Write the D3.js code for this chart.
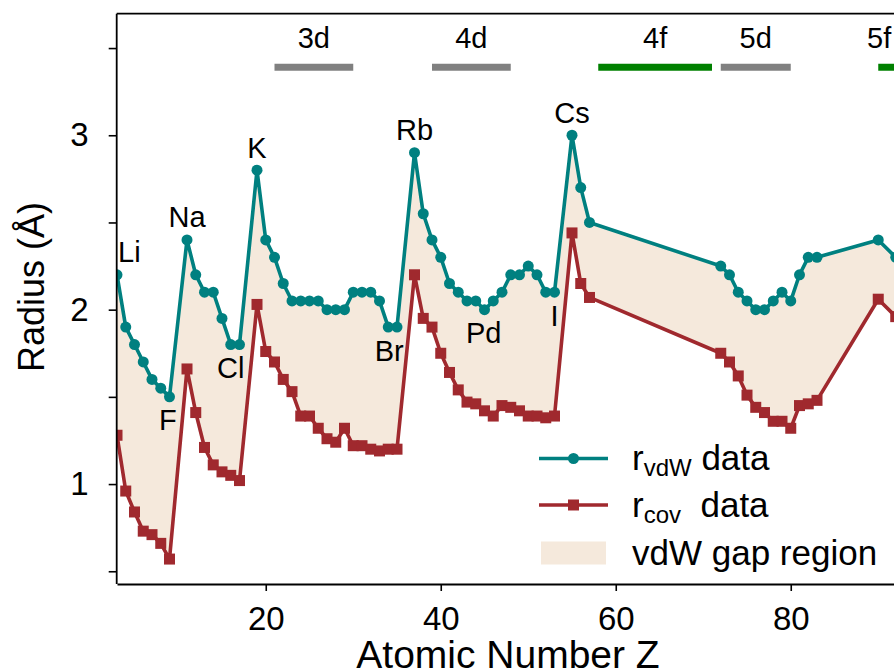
<!DOCTYPE html>
<html>
<head>
<meta charset="utf-8">
<script src="https://cdn.jsdelivr.net/npm/d3@7"></script>
<style>
  html, body { margin: 0; padding: 0; background: #fff; }
  svg { display: block; font-family: "Liberation Sans", Arial, Helvetica, sans-serif; }
</style>
</head>
<body>
<script>
// ---------------- DATA ----------------
const atomicNumbers = [3,4,5,6,7,8,9, 11,12,13,14,15,16,17,
  19,20,21,22,23,24,25,26,27,28,29,30,31,32,33,34,35,
  37,38,39,40,41,42,43,44,45,46,47,48,49,50,51,52,53,
  55,56,57, 72,73,74,75,76,77,78,79,80,81,82,83, 90,92];
const rVdw = [2.2,1.9,1.8,1.7,1.6,1.55,1.5, 2.4,2.2,2.1,2.1,1.95,1.8,1.8,
  2.8,2.4,2.3,2.15,2.05,2.05,2.05,2.05,2.0,2.0,2.0,2.1,2.1,2.1,2.05,1.9,1.9,
  2.9,2.55,2.4,2.3,2.15,2.1,2.05,2.05,2.0,2.05,2.1,2.2,2.2,2.25,2.2,2.1,2.1,
  3.0,2.7,2.5, 2.25,2.2,2.1,2.05,2.0,2.0,2.05,2.1,2.05,2.2,2.3,2.3, 2.4,2.3];
const rCov = [1.28,0.96,0.84,0.73,0.71,0.66,0.57, 1.66,1.41,1.21,1.11,1.07,1.05,1.02,
  2.03,1.76,1.70,1.60,1.53,1.39,1.39,1.32,1.26,1.24,1.32,1.22,1.22,1.20,1.19,1.20,1.20,
  2.20,1.95,1.90,1.75,1.64,1.54,1.47,1.46,1.42,1.39,1.45,1.44,1.42,1.39,1.39,1.38,1.39,
  2.44,2.15,2.07, 1.75,1.70,1.62,1.51,1.44,1.41,1.36,1.36,1.32,1.45,1.46,1.48, 2.06,1.96];

// element annotations
const labelNames = ["Li","Na","K","Rb","Cs","F","Cl","Br","Pd","I"];
const labelZ     = [3, 11, 19, 37, 55, 8.8, 16, 34.1, 44.9, 53];
const labelSide  = ["above","above","above","above","above","below","below","below","below","below"];

// shell blocks
const shellNames = ["3d","4d","4f","5d","5f"];
const shellStart = [21, 39, 58, 72, 90];
const shellEnd   = [30, 48, 71, 80, 103];
const shellLabelZ = [25.5, 43.5, 64.5, 76, 90.1];
const shellType  = ["d","d","f","d","f"];

// axis ticks
const xTicks = [20, 40, 60, 80];
const yTicks = [0.5, 1, 1.5, 2, 2.5, 3, 3.5];

// ---------------- STYLE ----------------
const W = 894, H = 671;
const teal = "#008080", brown = "#a0292e", gapFill = "#f5e9dc";
const shellColor = {d: "#808080", f: "#008000"};
const shellLevel = 3.39, shellLabelLevel = 3.5;
const lw = 3.6, rad = 5.5, sq = 11;

const svg = d3.select("body").append("svg").attr("width", W).attr("height", H);

const mLeft = 116.7, mTop = 13.7, mBottom = 584;
const x = d3.scaleLinear().domain([3, 96]).range([117, 117 + 93 * 8.75]);
const y = d3.scaleLinear().domain([0.427, 3.697]).range([mBottom, mTop]);

const data = atomicNumbers.map((z, i) => ({z, v: rVdw[i], c: rCov[i]}));

svg.append("clipPath").attr("id", "clip")
  .append("rect").attr("x", mLeft).attr("y", mTop)
  .attr("width", x.range()[1] - mLeft).attr("height", mBottom - mTop);

const plot = svg.append("g").attr("clip-path", "url(#clip)");

// gap region
plot.append("path").datum(data)
  .attr("d", d3.area().x(d => x(d.z)).y0(d => y(d.c)).y1(d => y(d.v)))
  .attr("fill", gapFill).attr("stroke", "none");

// shell bars
shellNames.forEach((n, i) => {
  plot.append("line")
    .attr("x1", x(shellStart[i])).attr("x2", x(shellEnd[i]))
    .attr("y1", y(shellLevel)).attr("y2", y(shellLevel))
    .attr("stroke", shellColor[shellType[i]]).attr("stroke-width", 7);
});

// lines
plot.append("path").datum(data)
  .attr("d", d3.line().x(d => x(d.z)).y(d => y(d.c)))
  .attr("fill", "none").attr("stroke", brown).attr("stroke-width", lw).attr("stroke-linejoin", "round");
plot.append("path").datum(data)
  .attr("d", d3.line().x(d => x(d.z)).y(d => y(d.v)))
  .attr("fill", "none").attr("stroke", teal).attr("stroke-width", lw).attr("stroke-linejoin", "round");

// markers
plot.selectAll("rect.cov").data(data).enter().append("rect")
  .attr("x", d => x(d.z) - sq / 2).attr("y", d => y(d.c) - sq / 2)
  .attr("width", sq).attr("height", sq).attr("fill", brown);
plot.selectAll("circle.vdw").data(data).enter().append("circle")
  .attr("cx", d => x(d.z)).attr("cy", d => y(d.v)).attr("r", rad).attr("fill", teal);

// shell labels
shellNames.forEach((n, i) => {
  svg.append("text").attr("x", x(shellLabelZ[i])).attr("y", y(shellLabelLevel))
    .attr("text-anchor", "middle").attr("font-size", 29).attr("fill", "#000").text(n);
});

// element labels
function nearest(z) {
  let best = data[0];
  data.forEach(d => { if (Math.abs(d.z - z) < Math.abs(best.z - z)) best = d; });
  return best;
}
labelNames.forEach((n, i) => {
  const p = nearest(labelZ[i]);
  const atEdge = labelZ[i] === x.domain()[0];
  svg.append("text")
    .attr("x", atEdge ? x(labelZ[i]) + 1 : x(labelZ[i]))
    .attr("y", labelSide[i] === "above" ? y(p.v) - 12.5 : y(p.v) + 33.5)
    .attr("text-anchor", atEdge ? "start" : "middle")
    .attr("font-size", 29).attr("fill", "#000").text(n);
});

// axes
const gx = svg.append("g").attr("transform", `translate(0,${mBottom})`)
  .call(d3.axisBottom(x).tickValues(xTicks).tickSize(7).tickSizeOuter(0).tickPadding(16));
const gy = svg.append("g").attr("transform", `translate(${mLeft},0)`)
  .call(d3.axisLeft(y).tickValues(yTicks).tickFormat(d => Number.isInteger(d) ? d : "")
    .tickSize(8).tickSizeOuter(0).tickPadding(20));
[gx, gy].forEach(g => {
  g.select(".domain").attr("stroke", "#000").attr("stroke-width", 1.8);
  g.selectAll(".tick line").attr("stroke", "#000").attr("stroke-width", 1.6);
  g.selectAll(".tick text").attr("font-size", 33).attr("fill", "#000")
    .attr("font-family", "Liberation Sans, Arial, sans-serif");
});
gy.select(".domain").attr("d", `M0,${mBottom}V${mTop}`);
// top spine
svg.append("line").attr("x1", mLeft).attr("x2", W + 10).attr("y1", mTop).attr("y2", mTop)
  .attr("stroke", "#000").attr("stroke-width", 1.8);

// axis titles
svg.append("text").attr("x", 508).attr("y", 668).attr("text-anchor", "middle")
  .attr("font-size", 39).attr("fill", "#000").text("Atomic Number Z");
svg.append("text").attr("transform", "translate(44,287) rotate(-90)")
  .attr("text-anchor", "middle").attr("font-size", 36).attr("fill", "#000").text("Radius (Å)");

// legend
const lg = svg.append("g");
const lx0 = 539, lx1 = 608, tx = 632;
const rows = [458.5, 505, 553];
lg.append("line").attr("x1", lx0).attr("x2", lx1).attr("y1", rows[0]).attr("y2", rows[0])
  .attr("stroke", teal).attr("stroke-width", lw);
lg.append("circle").attr("cx", (lx0 + lx1) / 2).attr("cy", rows[0]).attr("r", rad).attr("fill", teal);
lg.append("line").attr("x1", lx0).attr("x2", lx1).attr("y1", rows[1]).attr("y2", rows[1])
  .attr("stroke", brown).attr("stroke-width", lw);
lg.append("rect").attr("x", (lx0 + lx1) / 2 - sq / 2).attr("y", rows[1] - sq / 2)
  .attr("width", sq).attr("height", sq).attr("fill", brown);
lg.append("rect").attr("x", 541).attr("y", 541.5).attr("width", 65).attr("height", 23).attr("fill", gapFill);

const t1 = lg.append("text").attr("x", tx).attr("y", rows[0] + 11.5).attr("font-size", 35).attr("fill", "#000");
t1.append("tspan").text("r");
t1.append("tspan").attr("font-size", 24).attr("dy", 6).text("vdW");
t1.append("tspan").attr("dy", -6).text(" data");
const t2 = lg.append("text").attr("x", tx).attr("y", rows[1] + 11.5).attr("font-size", 35).attr("fill", "#000");
t2.append("tspan").text("r");
t2.append("tspan").attr("font-size", 24).attr("dy", 6).text("cov");
t2.append("tspan").attr("dy", -6).text("\u00a0 data");
lg.append("text").attr("x", tx).attr("y", rows[2] + 11.5).attr("font-size", 35).attr("fill", "#000")
  .text("vdW gap region");
</script>
</body>
</html>
